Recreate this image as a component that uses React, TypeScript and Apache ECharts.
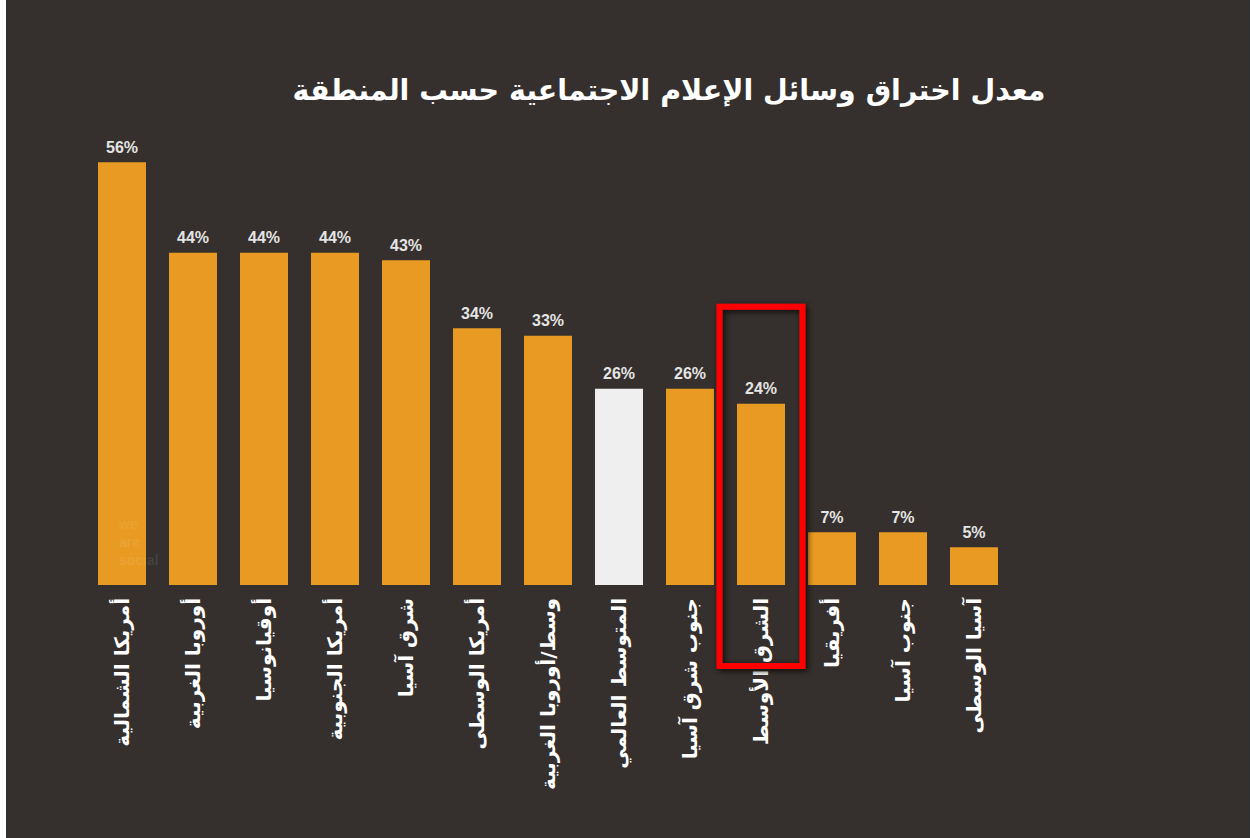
import React, { useEffect, useRef } from "react";
import * as echarts from "echarts";

const categories = [
  "أمريكا الشمالية",
  "أوروبا الغربية",
  "أوقيانوسيا",
  "أمريكا الجنوبية",
  "شرق آسيا",
  "أمريكا الوسطى",
  "وسط/أوروبا الغربية",
  "المتوسط العالمي",
  "جنوب شرق آسيا",
  "الشرق الأوسط",
  "أفريقيا",
  "جنوب آسيا",
  "آسيا الوسطى",
];
const values = [56, 44, 44, 44, 43, 34, 33, 26, 26, 24, 7, 7, 5];
const averageIndex = 7;
const highlightIndex = 9;
const titleText = "معدل اختراق وسائل الإعلام الاجتماعية حسب المنطقة";

const BG = "#35302d";
const ORANGE = "#e99a22";
const AVG = "#efefef";

export default function App() {
  const ref = useRef<HTMLDivElement>(null);
  useEffect(() => {
    if (!ref.current) return;
    const chart = echarts.init(ref.current, undefined, { renderer: "svg" });
    const baseGraphic: any[] = [
      {
        type: "text",
        x: 669 - 6,
        y: 90,
        style: {
          text: titleText,
          fill: "#ffffff",
          font: "bold 28.5px 'DejaVu Sans'",
          textAlign: "center",
          textVerticalAlign: "middle",
          shadowColor: "rgba(0,0,0,0.6)",
          shadowBlur: 4,
        },
      },
      {
        type: "text",
        x: 113,
        y: 515,
        z: 100,
        style: {
          text: "we\nare\nsocial",
          fill: "rgba(255,255,255,0.09)",
          font: "bold 14px 'Liberation Sans'",
          lineHeight: 18,
        },
      },
    ];
    const option: any = {
      animation: false,
      backgroundColor: BG,
      grid: { left: 80.5, right: 240.5, top: 132, bottom: 253, containLabel: false },
      xAxis: {
        type: "category",
        data: categories,
        axisLine: { show: false },
        axisTick: { show: false },
        axisLabel: {
          rotate: 90,
          interval: 0,
          margin: 13,
          color: "#ffffff",
          fontFamily: "DejaVu Sans",
          fontWeight: "bold",
          fontSize: 20,
        },
      },
      yAxis: {
        type: "value",
        min: 0,
        max: 60,
        show: false,
        splitLine: { show: false },
      },
      series: [
        {
          type: "bar",
          barWidth: 48,
          data: values.map((v, i) => ({
            value: v,
            itemStyle: { color: i === averageIndex ? AVG : ORANGE },
          })),
          label: {
            show: true,
            position: "top",
            distance: 7,
            formatter: "{c}%",
            color: "#e4e4e4",
            fontFamily: "Liberation Sans",
            fontWeight: "bold",
            fontSize: 16,
          },
        },
      ],
      graphic: baseGraphic,
    };
    chart.setOption(option);

    const top = chart.convertToPixel({ xAxisIndex: 0, yAxisIndex: 0 }, [highlightIndex, 37]);
    const zero = chart.convertToPixel({ xAxisIndex: 0, yAxisIndex: 0 }, [highlightIndex, 0]);
    const band = 923 / categories.length;
    const halfW = band / 2 + 6;
    chart.setOption({
      graphic: [
        ...baseGraphic,
        {
          type: "rect",
          shape: { x: top[0] - halfW, y: top[1] + 1, width: halfW * 2, height: zero[1] + 81 - top[1] - 1 },
          style: {
            fill: "none",
            stroke: "#ff0000",
            lineWidth: 6,
            shadowColor: "rgba(0,0,0,0.8)",
            shadowBlur: 6,
            shadowOffsetX: 2,
            shadowOffsetY: 2,
          },
          z: 10,
        },
      ],
    });
    return () => chart.dispose();
  }, []);
  return (
    <div
      ref={ref}
      style={{ position: "absolute", left: 6, top: 0, width: 1244, height: 838 }}
    />
  );
}
